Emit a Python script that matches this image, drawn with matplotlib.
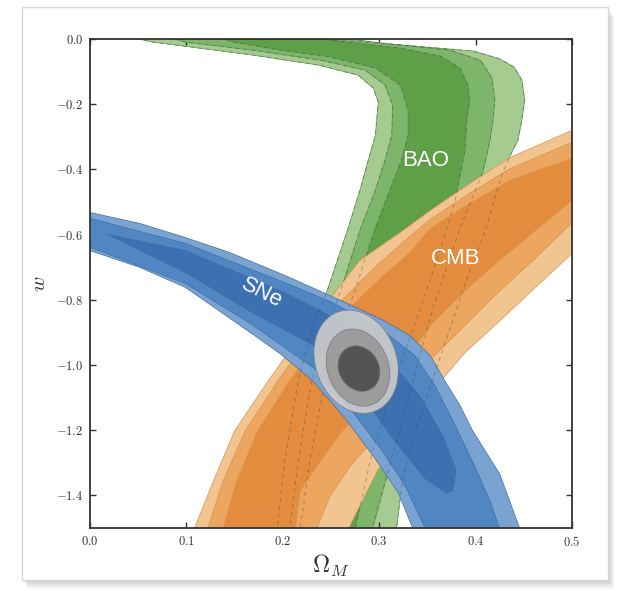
import matplotlib.pyplot as plt
from matplotlib.patches import Polygon, Ellipse, Rectangle
from matplotlib.ticker import FuncFormatter, MultipleLocator

plt.rcParams['mathtext.fontset'] = 'cm'

# contour outlines, (Omega_M, w), outer -> inner
bao_outer = [(0.020, 0.02), (0.166, 0.02), (0.249, -0.003), (0.322, -0.018), (0.398, -0.037),
             (0.425, -0.061), (0.440, -0.086), (0.448, -0.126), (0.451, -0.188), (0.448, -0.249),
             (0.444, -0.310), (0.436, -0.357), (0.427, -0.418), (0.410, -0.587), (0.394, -0.710),
             (0.361, -0.996), (0.337, -1.202), (0.324, -1.356), (0.318, -1.503), (0.314, -1.56),
             (0.188, -1.56), (0.194, -1.503), (0.202, -1.294), (0.216, -1.048), (0.230, -0.895),
             (0.246, -0.772), (0.267, -0.587), (0.280, -0.464), (0.290, -0.357), (0.296, -0.295),
             (0.299, -0.194), (0.294, -0.151), (0.278, -0.111), (0.237, -0.080), (0.168, -0.049),
             (0.064, -0.009)]
bao_mid = [(0.062, 0.02), (0.218, 0.02), (0.301, -0.012), (0.373, -0.034), (0.405, -0.065),
           (0.417, -0.120), (0.420, -0.188), (0.418, -0.249), (0.415, -0.310), (0.408, -0.403),
           (0.384, -0.578), (0.356, -0.824), (0.335, -1.048), (0.315, -1.263), (0.293, -1.503),
           (0.290, -1.56), (0.205, -1.56), (0.207, -1.503), (0.216, -1.294), (0.230, -1.048),
           (0.245, -0.895), (0.260, -0.772), (0.280, -0.587), (0.296, -0.464), (0.306, -0.372),
           (0.313, -0.295), (0.314, -0.203), (0.306, -0.141), (0.285, -0.095), (0.239, -0.065),
           (0.168, -0.034), (0.100, -0.010)]
bao_inner = [(0.114, 0.02), (0.239, 0.0), (0.322, -0.028), (0.363, -0.052), (0.384, -0.089),
             (0.392, -0.141), (0.394, -0.188), (0.391, -0.249), (0.389, -0.341), (0.379, -0.495),
             (0.363, -0.649), (0.342, -0.833), (0.316, -1.048), (0.293, -1.263), (0.275, -1.503),
             (0.273, -1.56), (0.215, -1.56), (0.218, -1.503), (0.228, -1.294), (0.244, -1.048),
             (0.259, -0.895), (0.275, -0.772), (0.295, -0.587), (0.311, -0.464), (0.323, -0.372),
             (0.330, -0.295), (0.330, -0.218), (0.322, -0.141), (0.296, -0.089), (0.249, -0.055),
             (0.197, -0.034), (0.150, -0.010)]

cmb_outer = [(0.100, -1.56), (0.108, -1.503), (0.128, -1.356), (0.150, -1.202), (0.185, -1.048),
             (0.218, -0.910), (0.249, -0.796), (0.280, -0.679), (0.322, -0.593), (0.353, -0.526),
             (0.394, -0.443), (0.436, -0.363), (0.500, -0.280), (0.53, -0.24), (0.53, -0.64),
             (0.500, -0.658), (0.461, -0.765), (0.422, -0.873), (0.389, -0.962), (0.355, -1.079),
             (0.327, -1.202), (0.298, -1.325), (0.268, -1.503), (0.262, -1.56)]
cmb_mid = [(0.115, -1.56), (0.122, -1.503), (0.138, -1.356), (0.161, -1.202), (0.195, -1.048),
           (0.228, -0.913), (0.259, -0.808), (0.290, -0.716), (0.322, -0.630), (0.353, -0.553),
           (0.394, -0.473), (0.436, -0.397), (0.500, -0.317), (0.53, -0.28), (0.53, -0.55),
           (0.500, -0.563), (0.462, -0.673), (0.422, -0.781), (0.389, -0.879), (0.355, -0.978),
           (0.332, -1.085), (0.311, -1.165), (0.287, -1.254), (0.270, -1.310), (0.249, -1.402),
           (0.235, -1.503), (0.230, -1.56)]
cmb_inner = [(0.131, -1.56), (0.138, -1.503), (0.152, -1.356), (0.174, -1.202), (0.207, -1.048),
             (0.241, -0.916), (0.272, -0.818), (0.303, -0.729), (0.332, -0.655), (0.353, -0.581),
             (0.394, -0.504), (0.436, -0.433), (0.500, -0.366), (0.53, -0.33), (0.53, -0.48),
             (0.500, -0.495), (0.462, -0.587), (0.422, -0.686), (0.389, -0.772), (0.355, -0.873),
             (0.327, -0.981), (0.296, -1.094), (0.262, -1.202), (0.239, -1.294), (0.218, -1.386),
             (0.213, -1.503), (0.210, -1.56)]

sne_outer = [(-0.03, -0.52), (0.0, -0.532), (0.052, -0.566), (0.099, -0.609), (0.145, -0.655),
             (0.202, -0.725), (0.249, -0.787), (0.301, -0.858), (0.332, -0.910), (0.353, -0.971),
             (0.368, -1.048), (0.384, -1.125), (0.397, -1.202), (0.425, -1.334), (0.446, -1.503),
             (0.452, -1.56), (0.330, -1.56), (0.335, -1.503), (0.320, -1.393), (0.296, -1.288),
             (0.265, -1.165), (0.231, -1.048), (0.197, -0.965), (0.168, -0.904), (0.099, -0.762),
             (0.052, -0.701), (0.0, -0.649), (-0.03, -0.64)]
sne_mid = [(-0.03, -0.545), (0.0, -0.550), (0.099, -0.627), (0.202, -0.747), (0.249, -0.805),
           (0.301, -0.888), (0.337, -0.971), (0.358, -1.064), (0.379, -1.187), (0.399, -1.310),
           (0.415, -1.417), (0.425, -1.503), (0.43, -1.56), (0.346, -1.56), (0.348, -1.503),
           (0.327, -1.371), (0.303, -1.263), (0.270, -1.134), (0.233, -1.011), (0.168, -0.876),
           (0.099, -0.750), (0.0, -0.639), (-0.03, -0.63)]
sne_inner = [(0.018, -0.599), (0.099, -0.649), (0.202, -0.778), (0.259, -0.864), (0.311, -0.987),
             (0.342, -1.094), (0.366, -1.217), (0.380, -1.325), (0.376, -1.386), (0.370, -1.393),
             (0.348, -1.350), (0.316, -1.233), (0.290, -1.125), (0.259, -1.024), (0.233, -0.941),
             (0.168, -0.839), (0.099, -0.716), (0.031, -0.618)]

# combined constraint: centres, widths (Omega_M) and heights (w), outer -> inner
comb_center = [(0.276, -0.990), (0.278, -1.008), (0.279, -1.011)]
comb_width = [0.086, 0.065, 0.043]
comb_height = [0.317, 0.237, 0.140]

probe_names = ['BAO', 'CMB', 'SNe']
probe_label_at = [(0.348, -0.372), (0.379, -0.674), (0.178, -0.778)]

bao_colors = ['#a5cb91', '#7db66b', '#5f9f48']
cmb_colors = ['#f2c48f', '#eca65f', '#e38c3d']
sne_colors = ['#7ba3d1', '#5087c3', '#3b70b2']
comb_colors = ['#cacaca', '#999999', '#4e4e4e']

fig = plt.figure(figsize=(6.19, 5.91), dpi=100)

# screenshot frame with a soft shadow
for k in range(6):
    fig.patches.append(Rectangle((0.037 + 0.0015 * k, 0.016 - 0.0025 * k), 0.947, 0.970,
                                 transform=fig.transFigure, facecolor='#666666', alpha=0.06,
                                 edgecolor='none', zorder=-3))
fig.patches.append(Rectangle((0.035, 0.0186), 0.947, 0.969, transform=fig.transFigure,
                             facecolor='white', edgecolor='#d8d8d8', lw=1.0, zorder=-2))

ax = fig.add_axes([0.1454, 0.1066, 0.7787, 0.8274])

def draw_levels(levels, colors, z, edge):
    for pts, c in zip(levels, colors):
        ax.add_patch(Polygon(pts, closed=True, facecolor=c, edgecolor=edge,
                             lw=0.5, zorder=z))
        z += 1

draw_levels([bao_outer, bao_mid, bao_inner], bao_colors, 1, '#5f9a50')
draw_levels([cmb_outer, cmb_mid, cmb_inner], cmb_colors, 4, '#d8944f')
draw_levels([sne_outer, sne_mid, sne_inner], sne_colors, 7, '#3d6ea8')

# BAO outlines show through as dashed lines
for pts in [bao_outer, bao_mid, bao_inner]:
    ax.add_patch(Polygon(pts, closed=True, fill=False, edgecolor='#444444', lw=0.7,
                         ls=(0, (4, 4)), alpha=0.4, zorder=10))

for (cx, cy), wd, ht, c, z in zip(comb_center, comb_width, comb_height, comb_colors, [11, 12, 13]):
    ax.add_patch(Ellipse((cx, cy), wd, ht, angle=3, facecolor=c, edgecolor='#777777',
                         lw=0.5, alpha=0.92, zorder=z))

for name, (x, y), rot in zip(probe_names, probe_label_at, [0, 0, -27]):
    ax.text(x, y, name, color='white', fontsize=16, family='Liberation Sans',
            ha='center', va='center', rotation=rot, rotation_mode='anchor', zorder=20)

ax.set_xlim(0.0, 0.5)
ax.set_ylim(-1.5, 0.0)
ax.xaxis.set_major_locator(MultipleLocator(0.1))
ax.yaxis.set_major_locator(MultipleLocator(0.2))

def fmt(v, pos):
    if abs(v) < 1e-9:
        v = 0.0
    return r'$%.1f$' % v

ax.xaxis.set_major_formatter(FuncFormatter(fmt))
ax.yaxis.set_major_formatter(FuncFormatter(fmt))
ax.tick_params(direction='in', length=4, width=1.0, top=True, right=True,
               labelsize=9, pad=5, colors='#333333')
for s in ax.spines.values():
    s.set_color('#333333')
    s.set_linewidth(1.3)
    s.set_zorder(30)

ax.set_xlabel(r'$\Omega_M$', fontsize=17, labelpad=3, color='#333333')
ax.set_ylabel(r'$w$', fontsize=15, labelpad=5, color='#333333')

fig.savefig('out.png', dpi=100)
